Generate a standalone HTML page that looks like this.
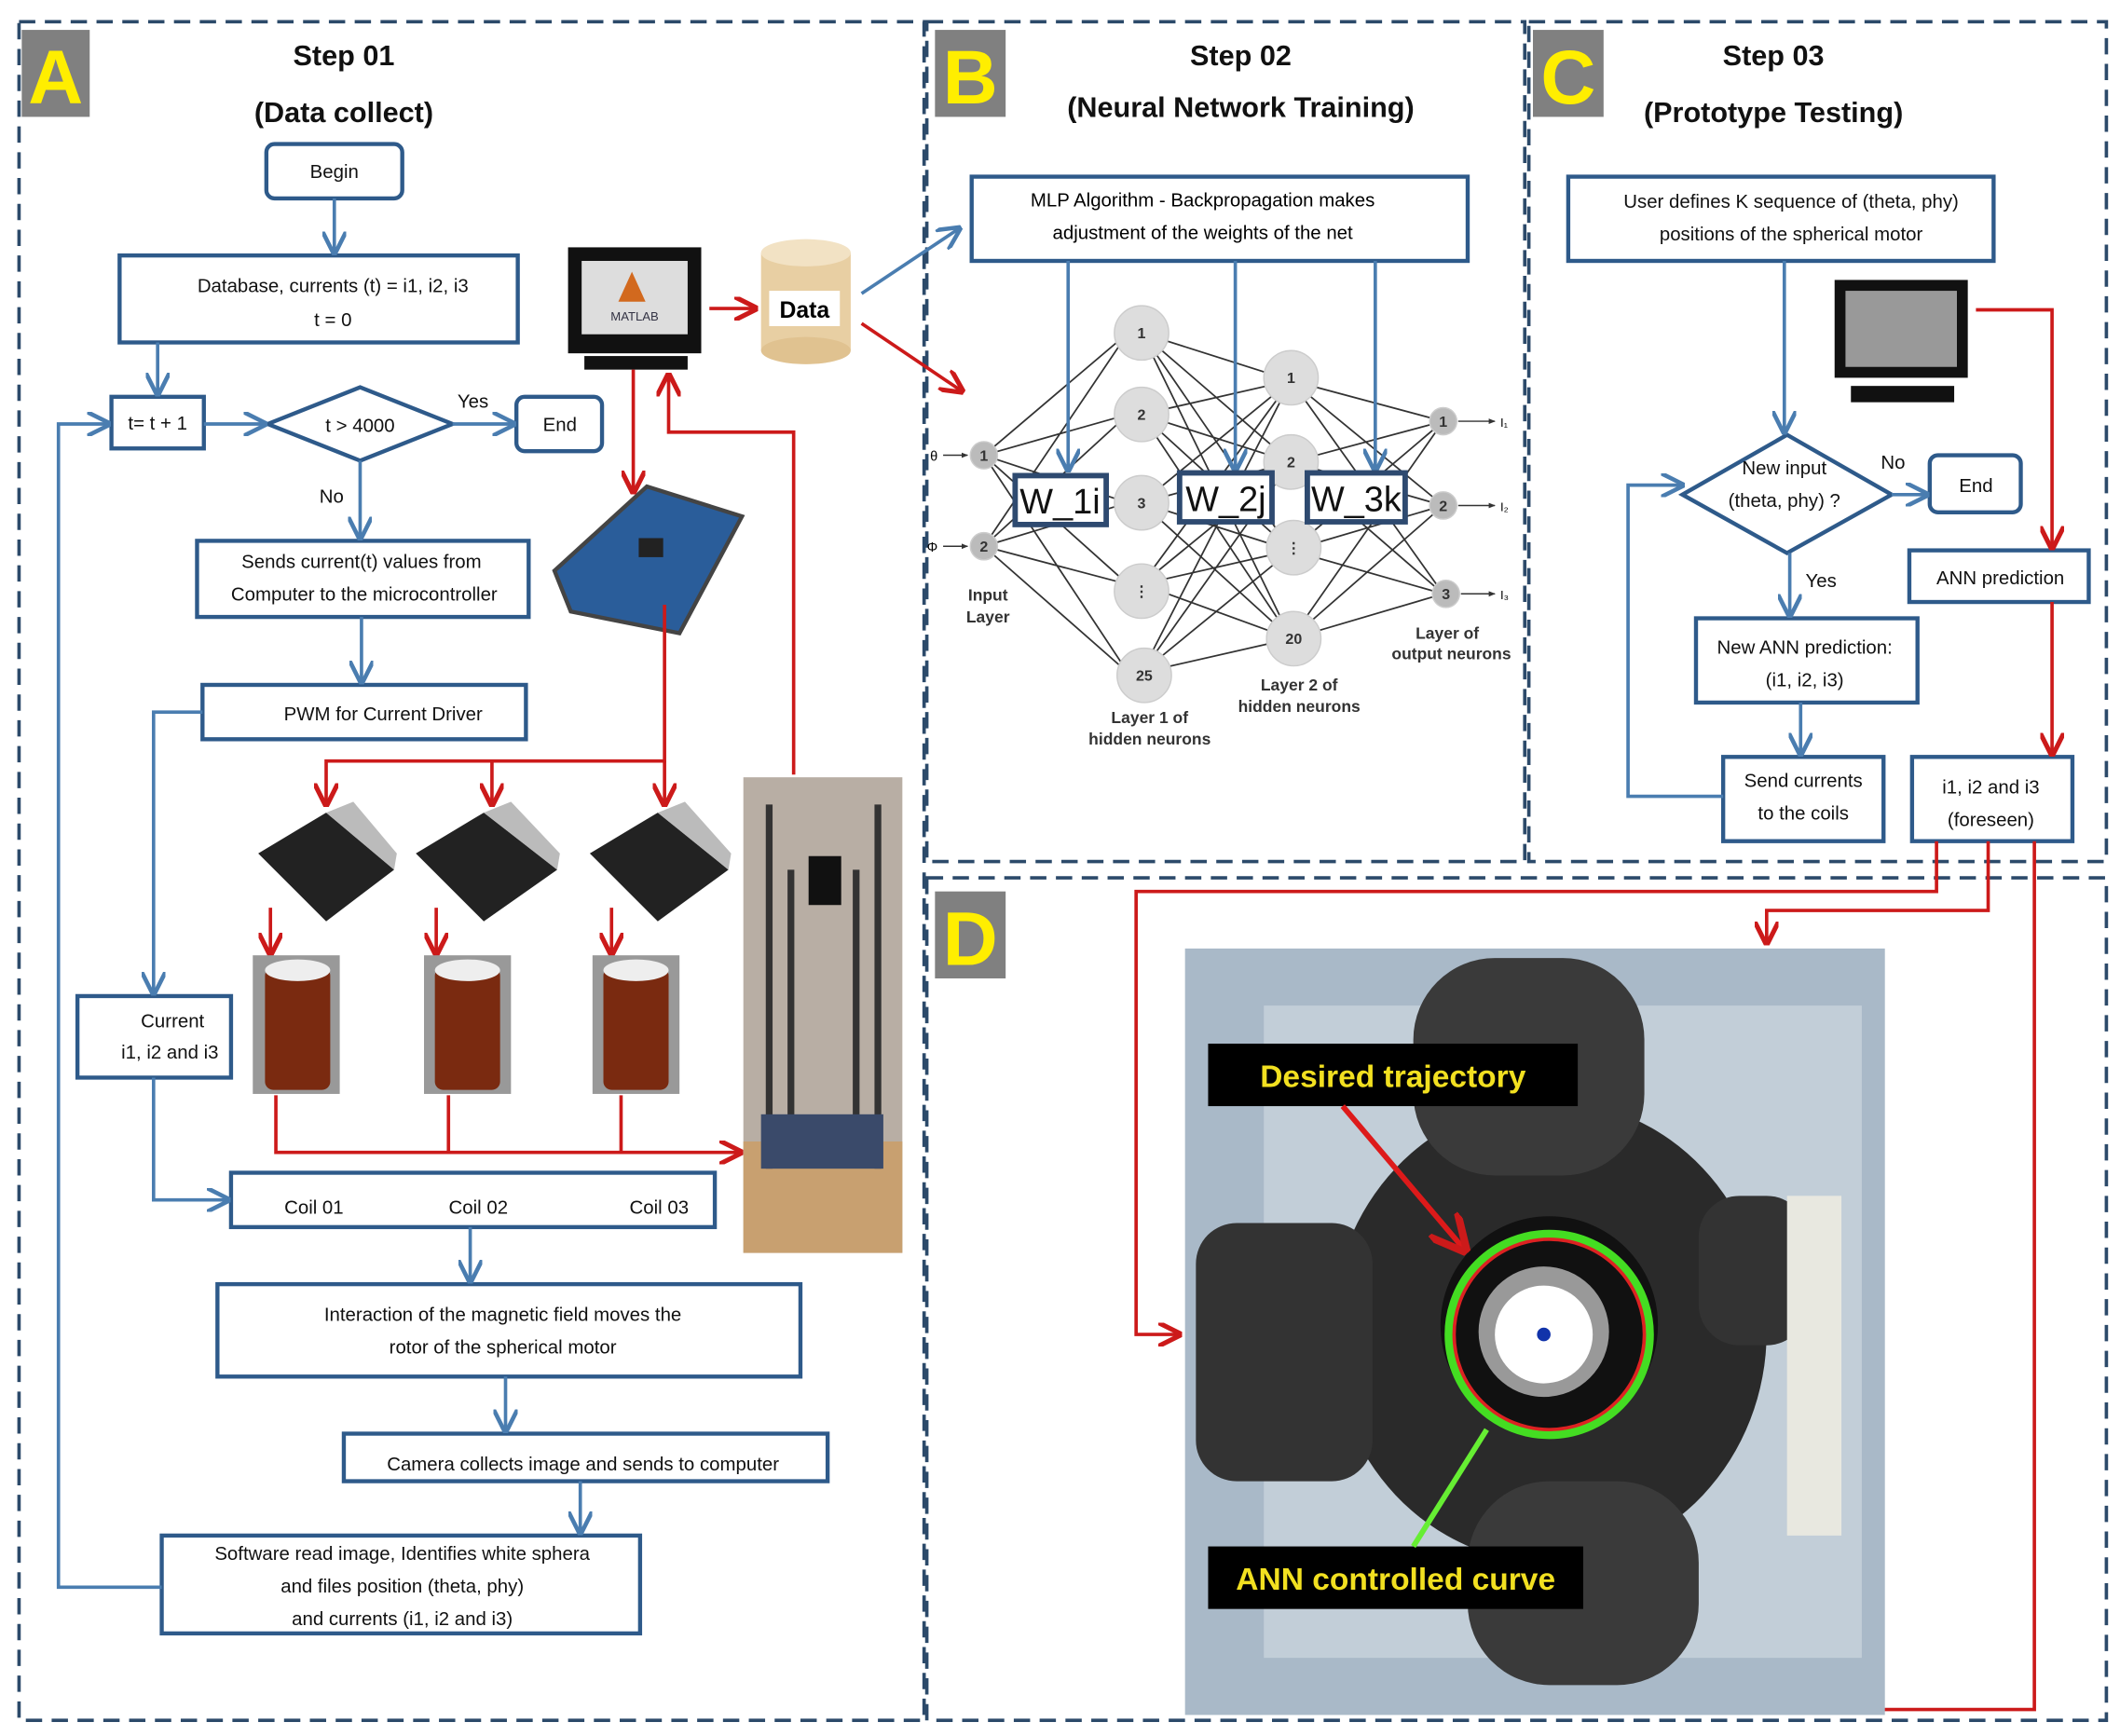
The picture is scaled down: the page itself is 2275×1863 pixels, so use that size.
<!DOCTYPE html>
<html><head><meta charset="utf-8"><style>
html,body{margin:0;padding:0;background:#fff;}
svg{display:block;}
text{font-family:"Liberation Sans",sans-serif;}
</style></head><body>
<svg width="2275" height="1863" viewBox="0 0 1560 1277.5" xmlns="http://www.w3.org/2000/svg">
<defs>
<marker id="ab" viewBox="0 0 10 10" refX="9" refY="5" markerWidth="7" markerHeight="7" orient="auto-start-reverse"><path d="M0,0 L10,5 L0,10" fill="none" stroke="#4a7db0" stroke-width="1.8"/></marker>
<marker id="ar" viewBox="0 0 10 10" refX="9" refY="5" markerWidth="7" markerHeight="7" orient="auto-start-reverse"><path d="M0,0 L10,5 L0,10" fill="none" stroke="#cc1a1a" stroke-width="2"/></marker>
<marker id="ak" viewBox="0 0 10 10" refX="9" refY="5" markerWidth="5" markerHeight="5" orient="auto"><path d="M0,1 L10,5 L0,9z" fill="#333"/></marker>
</defs>
<rect width="1560" height="1278" fill="#fff"/>
<g fill="none" stroke="#2c4a6a" stroke-width="2.5" stroke-dasharray="12,7">
<rect x="14" y="16" width="666" height="1250"/>
<rect x="682" y="16" width="440" height="618"/>
<rect x="1125" y="16" width="425" height="618"/>
<rect x="682" y="646" width="868" height="620"/>
</g>
<rect x="16" y="22" width="50" height="64" fill="#808080"/><text x="41" y="76" font-size="56" font-weight="bold" fill="#ffee00" text-anchor="middle">A</text>
<rect x="688" y="22" width="52" height="64" fill="#808080"/><text x="714" y="76" font-size="56" font-weight="bold" fill="#ffee00" text-anchor="middle">B</text>
<rect x="1128" y="22" width="52" height="64" fill="#808080"/><text x="1154" y="76" font-size="56" font-weight="bold" fill="#ffee00" text-anchor="middle">C</text>
<rect x="688" y="656" width="52" height="64" fill="#808080"/><text x="714" y="710" font-size="56" font-weight="bold" fill="#ffee00" text-anchor="middle">D</text>
<g font-weight="bold" font-size="21" text-anchor="middle" fill="#111">
<text x="253" y="48">Step 01</text><text x="253" y="90">(Data collect)</text>
<text x="913" y="48">Step 02</text><text x="913" y="86">(Neural Network Training)</text>
<text x="1305" y="48">Step 03</text><text x="1305" y="90">(Prototype Testing)</text>
</g>
<g fill="#fff" stroke="#2e5a8a" stroke-width="3">
<rect x="196" y="106" width="100" height="40" rx="6"/>
<rect x="88" y="188" width="293" height="64"/>
<rect x="82" y="292" width="68" height="38"/>
<polygon points="197,312 265,285 333,312 265,339"/>
<rect x="380" y="292" width="63" height="40" rx="6"/>
<rect x="145" y="398" width="244" height="56"/>
<rect x="149" y="504" width="238" height="40"/>
<rect x="57" y="733" width="113" height="60"/>
<rect x="170" y="863" width="356" height="40"/>
<rect x="160" y="945" width="429" height="68"/>
<rect x="253" y="1055" width="356" height="35"/>
<rect x="119" y="1130" width="352" height="72"/>
</g>
<g font-size="14" fill="#111" text-anchor="middle">
<text x="246" y="131">Begin</text>
<text x="245" y="215">Database, currents (t) = i1, i2, i3</text><text x="245" y="240">t = 0</text>
<text x="116" y="316">t= t + 1</text>
<text x="265" y="318">t &gt; 4000</text>
<text x="412" y="317">End</text>
<text x="348" y="300">Yes</text><text x="244" y="370">No</text>
<text x="266" y="418">Sends current(t) values from</text><text x="268" y="442">Computer to the microcontroller</text>
<text x="282" y="530">PWM for Current Driver</text>
<text x="127" y="756">Current</text><text x="125" y="779">i1, i2 and i3</text>
<text x="231" y="893">Coil 01</text><text x="352" y="893">Coil 02</text><text x="485" y="893">Coil 03</text>
<text x="370" y="972">Interaction of the magnetic field moves the</text><text x="370" y="996">rotor of the spherical motor</text>
<text x="429" y="1082">Camera collects image and sends to computer</text>
<text x="296" y="1148">Software read image, Identifies white sphera</text><text x="296" y="1172">and files position (theta, phy)</text><text x="296" y="1196">and currents (i1, i2 and i3)</text>
</g>
<g fill="none" stroke="#4a7db0" stroke-width="2.5" marker-end="url(#ab)">
<line x1="246" y1="146" x2="246" y2="186"/>
<line x1="116" y1="252" x2="116" y2="290"/>
<line x1="150" y1="312" x2="195" y2="312"/>
<line x1="333" y1="312" x2="378" y2="312"/>
<line x1="265" y1="339" x2="265" y2="396"/>
<line x1="266" y1="454" x2="266" y2="502"/>
<polyline points="149,524 113,524 113,731"/>
<polyline points="113,793 113,883 168,883"/>
<line x1="346" y1="903" x2="346" y2="943"/>
<line x1="372" y1="1013" x2="372" y2="1053"/>
<line x1="427" y1="1090" x2="427" y2="1128"/>
<polyline points="119,1168 43,1168 43,312 80,312"/>
</g>
<rect x="418" y="182" width="98" height="78" fill="#111"/>
<rect x="428" y="192" width="78" height="54" fill="#ddd"/>
<polygon points="465,200 475,222 455,222" fill="#d2691e"/>
<text x="467" y="236" font-size="9" font-family="Liberation Serif" fill="#334" text-anchor="middle">MATLAB</text>
<rect x="430" y="262" width="76" height="10" fill="#111"/>
<rect x="560" y="186" width="66" height="72" fill="#e8cfa3"/>
<ellipse cx="593" cy="186" rx="33" ry="10" fill="#f2e2c4"/>
<ellipse cx="593" cy="258" rx="33" ry="10" fill="#e0c290"/>
<rect x="566" y="214" width="52" height="26" fill="#fff"/>
<text x="592" y="234" font-size="17" font-weight="bold" text-anchor="middle">Data</text>
<polygon points="408,420 476,358 546,380 500,466 420,450" fill="#2a5d9a" stroke="#444" stroke-width="3"/>
<rect x="470" y="396" width="18" height="14" fill="#222"/>
<g fill="none" stroke="#cc1a1a" stroke-width="2.5" marker-end="url(#ar)">
<line x1="522" y1="227" x2="556" y2="227"/>
<line x1="634" y1="238" x2="708" y2="288"/>
<line x1="466" y1="272" x2="466" y2="362"/>
<polyline points="584,570 584,318 492,318 492,276"/>
<polyline points="489,445 489,560 240,560 240,592"/>
<line x1="362" y1="560" x2="362" y2="592"/>
<line x1="489" y1="560" x2="489" y2="592"/>
<line x1="199" y1="668" x2="199" y2="702"/>
<line x1="321" y1="668" x2="321" y2="702"/>
<line x1="450" y1="668" x2="450" y2="702"/>
<polyline points="203,806 203,848 545,848"/>
</g>
<g stroke="#cc1a1a" stroke-width="2.5"><line x1="330" y1="806" x2="330" y2="848"/><line x1="457" y1="806" x2="457" y2="848"/></g>
<line x1="634" y1="216" x2="706" y2="168" stroke="#4a7db0" stroke-width="2.5" marker-end="url(#ab)"/>
<g fill="#222">
<polygon points="190,628 240,598 290,640 240,678"/>
<polygon points="306,628 356,598 410,640 356,678"/>
<polygon points="434,628 484,598 536,640 484,678"/>
</g>
<g fill="#bbb"><polygon points="240,598 260,590 292,628 290,640"/><polygon points="356,598 376,590 412,628 410,640"/><polygon points="484,598 504,590 538,628 536,640"/></g>
<g><rect x="186" y="703" width="64" height="102" fill="#999"/><rect x="195" y="712" width="48" height="90" rx="6" fill="#7a2a10"/><ellipse cx="219" cy="714" rx="24" ry="8" fill="#eee"/>
<rect x="312" y="703" width="64" height="102" fill="#999"/><rect x="320" y="712" width="48" height="90" rx="6" fill="#7a2a10"/><ellipse cx="344" cy="714" rx="24" ry="8" fill="#eee"/>
<rect x="436" y="703" width="64" height="102" fill="#999"/><rect x="444" y="712" width="48" height="90" rx="6" fill="#7a2a10"/><ellipse cx="468" cy="714" rx="24" ry="8" fill="#eee"/></g>
<rect x="547" y="572" width="117" height="350" fill="#b8aea4"/>
<rect x="547" y="840" width="117" height="82" fill="#c8a070"/>
<g stroke="#333" stroke-width="5"><line x1="566" y1="592" x2="566" y2="860"/><line x1="646" y1="592" x2="646" y2="860"/><line x1="582" y1="640" x2="582" y2="840"/><line x1="630" y1="640" x2="630" y2="840"/></g>
<rect x="595" y="630" width="24" height="36" fill="#111"/>
<rect x="560" y="820" width="90" height="40" fill="#3a4a6a"/>
<rect x="715" y="130" width="365" height="62" fill="#fff" stroke="#2e5a8a" stroke-width="3"/>
<text x="885" y="152" font-size="14" text-anchor="middle">MLP Algorithm - Backpropagation makes</text>
<text x="885" y="176" font-size="14" text-anchor="middle">adjustment of the weights of the net</text>
<g stroke="#333" stroke-width="1.2">
<path d="M724,335 L830,245 M724,335 L830,305 M724,335 L830,370 M724,335 L830,430 M724,335 L830,495 M724,402 L830,245 M724,402 L830,305 M724,402 L830,370 M724,402 L830,430 M724,402 L830,495"/>
<path d="M840,245 L950,280 M840,245 L950,340 M840,245 L950,405 M840,245 L950,470 M840,305 L950,280 M840,305 L950,340 M840,305 L950,405 M840,305 L950,470 M840,370 L950,280 M840,370 L950,340 M840,370 L950,405 M840,370 L950,470 M840,430 L950,280 M840,430 L950,340 M840,430 L950,405 M840,430 L950,470 M840,495 L950,280 M840,495 L950,340 M840,495 L950,405 M840,495 L950,470"/>
<path d="M950,280 L1062,310 M950,280 L1062,372 M950,280 L1062,437 M950,340 L1062,310 M950,340 L1062,372 M950,340 L1062,437 M950,405 L1062,310 M950,405 L1062,372 M950,405 L1062,437 M950,470 L1062,310 M950,470 L1062,372 M950,470 L1062,437"/>
</g>
<g fill="#ddd" stroke="#ccc">
<circle cx="840" cy="245" r="20"/><circle cx="840" cy="305" r="20"/><circle cx="840" cy="370" r="20"/><circle cx="840" cy="435" r="20"/><circle cx="842" cy="497" r="20"/>
<circle cx="950" cy="278" r="20"/><circle cx="950" cy="340" r="20"/><circle cx="952" cy="403" r="20"/><circle cx="952" cy="470" r="20"/>
<circle cx="724" cy="335" r="10" fill="#bbb"/><circle cx="724" cy="402" r="10" fill="#bbb"/>
<circle cx="1062" cy="310" r="10" fill="#bbb"/><circle cx="1062" cy="372" r="10" fill="#bbb"/><circle cx="1064" cy="437" r="10" fill="#bbb"/>
</g>
<g font-size="11" font-weight="bold" fill="#333" text-anchor="middle">
<text x="840" y="249">1</text><text x="840" y="309">2</text><text x="840" y="374">3</text><text x="840" y="439">⋮</text><text x="842" y="501">25</text>
<text x="950" y="282">1</text><text x="950" y="344">2</text><text x="952" y="407">⋮</text><text x="952" y="474">20</text>
<text x="724" y="339">1</text><text x="724" y="406">2</text><text x="1062" y="314">1</text><text x="1062" y="376">2</text><text x="1064" y="441">3</text>
<text x="727" y="442" font-size="12">Input</text><text x="727" y="458" font-size="12">Layer</text>
<text x="846" y="532" font-size="12">Layer 1 of</text><text x="846" y="548" font-size="12">hidden neurons</text>
<text x="956" y="508" font-size="12">Layer 2 of</text><text x="956" y="524" font-size="12">hidden neurons</text>
<text x="1065" y="470" font-size="12">Layer of</text><text x="1068" y="485" font-size="12">output neurons</text>
</g>
<g stroke="#333" stroke-width="1" marker-end="url(#ak)"><line x1="694" y1="335" x2="712" y2="335"/><line x1="694" y1="402" x2="712" y2="402"/><line x1="1073" y1="310" x2="1100" y2="310"/><line x1="1073" y1="372" x2="1100" y2="372"/><line x1="1075" y1="437" x2="1100" y2="437"/></g>
<text x="690" y="339" font-size="10" text-anchor="end">θ</text><text x="690" y="406" font-size="10" text-anchor="end">Φ</text>
<text x="1104" y="314" font-size="9">I₁</text><text x="1104" y="376" font-size="9">I₂</text><text x="1104" y="441" font-size="9">I₃</text>
<g fill="none" stroke="#4a7db0" stroke-width="2.5" marker-end="url(#ab)"><line x1="786" y1="192" x2="786" y2="346"/><line x1="909" y1="192" x2="909" y2="346"/><line x1="1012" y1="192" x2="1012" y2="346"/></g>
<g fill="#fff" stroke="#2e4a70" stroke-width="4"><rect x="747" y="350" width="67" height="36"/><rect x="868" y="348" width="68" height="36"/><rect x="962" y="348" width="72" height="36"/></g>
<g font-size="26" text-anchor="middle" fill="#111"><text x="780" y="378">W_1i</text><text x="902" y="376">W_2j</text><text x="998" y="376">W_3k</text></g>
<g fill="#fff" stroke="#2e5a8a" stroke-width="3">
<rect x="1154" y="130" width="313" height="62"/>
<polygon points="1238,364 1315,320 1392,364 1315,407"/>
<rect x="1420" y="335" width="67" height="42" rx="6"/>
<rect x="1405" y="405" width="132" height="38"/>
<rect x="1248" y="455" width="163" height="62"/>
<rect x="1268" y="557" width="118" height="62"/>
<rect x="1407" y="557" width="118" height="62"/>
</g>
<g font-size="14" text-anchor="middle" fill="#111">
<text x="1318" y="153">User defines K sequence of (theta, phy)</text><text x="1318" y="177">positions of the spherical motor</text>
<text x="1313" y="349">New input</text><text x="1313" y="373">(theta, phy) ?</text>
<text x="1393" y="345">No</text><text x="1340" y="432">Yes</text>
<text x="1454" y="362">End</text>
<text x="1472" y="430">ANN prediction</text>
<text x="1328" y="481">New ANN prediction:</text><text x="1328" y="505">(i1, i2, i3)</text>
<text x="1327" y="579">Send currents</text><text x="1327" y="603">to the coils</text>
<text x="1465" y="584">i1, i2 and i3</text><text x="1465" y="608">(foreseen)</text>
</g>
<g fill="none" stroke="#4a7db0" stroke-width="2.5" marker-end="url(#ab)">
<line x1="1313" y1="192" x2="1313" y2="318"/>
<line x1="1392" y1="364" x2="1418" y2="364"/>
<line x1="1317" y1="407" x2="1317" y2="453"/>
<line x1="1325" y1="517" x2="1325" y2="555"/>
<polyline points="1268,586 1198,586 1198,357 1238,357"/>
</g>
<rect x="1350" y="206" width="98" height="72" fill="#111"/><rect x="1358" y="214" width="82" height="56" fill="#999"/><rect x="1362" y="284" width="76" height="12" fill="#111"/>
<g fill="none" stroke="#cc1a1a" stroke-width="2.5" marker-end="url(#ar)">
<polyline points="1454,228 1510,228 1510,403"/>
<line x1="1510" y1="443" x2="1510" y2="555"/>
<polyline points="1425,619 1425,656 836,656 836,982 868,982"/>
<polyline points="1463,619 1463,670 1300,670 1300,694"/>
<polyline points="1497,619 1497,1258 1290,1258 1290,1228"/>
</g>
<rect x="872" y="698" width="515" height="564" fill="#a9b9c8"/>
<rect x="930" y="740" width="440" height="480" fill="#c2ced8"/>
<ellipse cx="1140" cy="980" rx="160" ry="170" fill="#2a2a2a"/>
<rect x="880" y="900" width="130" height="190" rx="30" fill="#333"/>
<rect x="1040" y="705" width="170" height="160" rx="60" fill="#3a3a3a"/>
<rect x="1080" y="1090" width="170" height="150" rx="60" fill="#3a3a3a"/>
<rect x="1250" y="880" width="80" height="110" rx="30" fill="#333"/>
<rect x="1315" y="880" width="40" height="250" fill="#e8e8e0"/>
<circle cx="1140" cy="975" r="80" fill="#111"/>
<circle cx="1140" cy="982" r="74" fill="none" stroke="#44dd22" stroke-width="6"/>
<circle cx="1140" cy="982" r="70" fill="none" stroke="#dd2222" stroke-width="2.5"/>
<circle cx="1136" cy="980" r="48" fill="#999"/>
<circle cx="1136" cy="982" r="36" fill="#fff"/>
<circle cx="1136" cy="982" r="5" fill="#1133aa"/>
<rect x="889" y="768" width="272" height="46" fill="#000"/>
<text x="1025" y="800" font-size="23" font-weight="bold" fill="#f2e020" text-anchor="middle">Desired trajectory</text>
<rect x="889" y="1138" width="276" height="46" fill="#000"/>
<text x="1027" y="1170" font-size="23" font-weight="bold" fill="#f2e020" text-anchor="middle">ANN controlled curve</text>
<line x1="988" y1="814" x2="1078" y2="920" stroke="#dd1a1a" stroke-width="4" marker-end="url(#ar)"/>
<line x1="1040" y1="1138" x2="1094" y2="1052" stroke="#66ee33" stroke-width="4"/>
</svg>
</body></html>
